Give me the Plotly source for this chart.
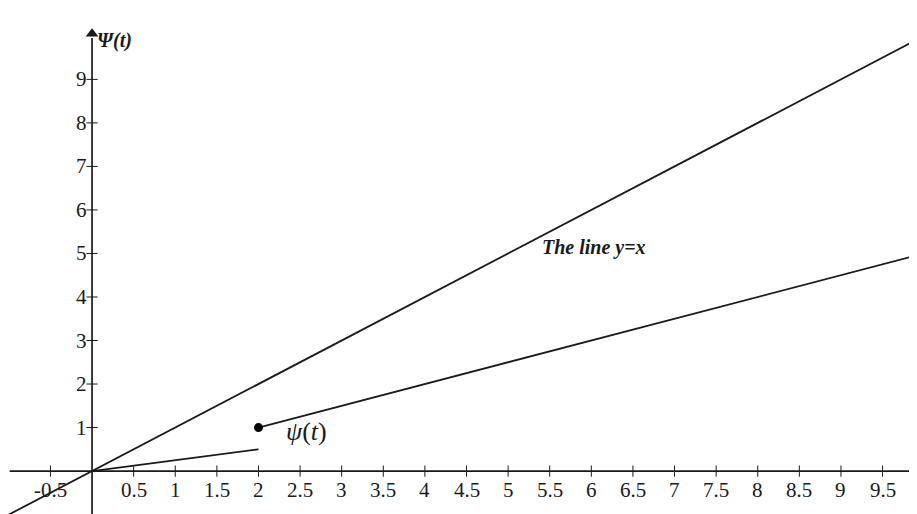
import plotly.graph_objects as go

# Data
x_ticks = [-0.5, 0.5, 1, 1.5, 2, 2.5, 3, 3.5, 4, 4.5, 5, 5.5, 6, 6.5, 7, 7.5, 8, 8.5, 9, 9.5]
x_tick_labels = ["-0.5", "0.5", "1", "1.5", "2", "2.5", "3", "3.5", "4", "4.5", "5", "5.5",
                 "6", "6.5", "7", "7.5", "8", "8.5", "9", "9.5"]
y_ticks = [1, 2, 3, 4, 5, 6, 7, 8, 9]
y_tick_labels = ["1", "2", "3", "4", "5", "6", "7", "8", "9"]

line_yx_x = [-1.3, 10.2]
line_yx_y = [-1.3, 10.2]
psi_low_x = [0, 2]
psi_low_y = [0, 0.5]
psi_high_x = [2, 10.2]
psi_high_y = [1, 5.1]
psi_point = (2, 1)

XR = [-1.01, 10.01]
YR = [-1.17, 10.64]
INK = "#1a1a1a"
FONT = "Liberation Serif"

fig = go.Figure()

# axes
fig.add_trace(go.Scatter(x=[-0.99, 10.1], y=[0, 0], mode="lines",
                         line=dict(color=INK, width=1.7), hoverinfo="skip"))
fig.add_trace(go.Scatter(x=[0, 0], y=[-1.2, 9.95], mode="lines",
                         line=dict(color=INK, width=1.7), hoverinfo="skip"))
fig.add_trace(go.Scatter(x=[0], y=[10.05], mode="markers",
                         marker=dict(symbol="triangle-up", size=11, color=INK), hoverinfo="skip"))
fig.add_trace(go.Scatter(x=[9.97], y=[0], mode="markers",
                         marker=dict(symbol="triangle-right", size=11, color=INK), hoverinfo="skip"))

# tick marks
fig.add_trace(go.Scatter(x=x_ticks, y=[0] * len(x_ticks), mode="markers",
                         marker=dict(symbol="line-ns", size=8, line=dict(color=INK, width=1)),
                         hoverinfo="skip"))
fig.add_trace(go.Scatter(x=[0] * len(y_ticks), y=y_ticks, mode="markers",
                         marker=dict(symbol="line-ew", size=8, line=dict(color=INK, width=1)),
                         hoverinfo="skip"))

# curves
fig.add_trace(go.Scatter(x=line_yx_x, y=line_yx_y, mode="lines",
                         line=dict(color=INK, width=1.8), hoverinfo="skip"))
fig.add_trace(go.Scatter(x=psi_low_x, y=psi_low_y, mode="lines",
                         line=dict(color=INK, width=1.8), hoverinfo="skip"))
fig.add_trace(go.Scatter(x=psi_high_x, y=psi_high_y, mode="lines",
                         line=dict(color=INK, width=1.8), hoverinfo="skip"))
fig.add_trace(go.Scatter(x=[psi_point[0]], y=[psi_point[1]], mode="markers",
                         marker=dict(size=9, color="black"), hoverinfo="skip"))

annotations = []
for xv, lab in zip(x_ticks, x_tick_labels):
    annotations.append(dict(x=xv, y=0, xref="x", yref="y", text=lab, showarrow=False,
                            yanchor="top", xanchor="center", yshift=-5,
                            font=dict(family=FONT, size=21, color=INK)))
for yv, lab in zip(y_ticks, y_tick_labels):
    annotations.append(dict(x=0, y=yv, xref="x", yref="y", text=lab, showarrow=False,
                            xanchor="right", yanchor="middle", xshift=-3,
                            font=dict(family=FONT, size=21, color=INK)))
annotations.append(dict(x=0, y=9.9, xref="x", yref="y", text="<b><i>Ψ(t)</i></b>",
                        showarrow=False, xanchor="left", yanchor="middle", xshift=3,
                        font=dict(family=FONT, size=20, color=INK)))
annotations.append(dict(x=6.03, y=5.13, xref="x", yref="y", text="<b><i>The line y=x</i></b>",
                        showarrow=False, xanchor="center", yanchor="middle",
                        font=dict(family=FONT, size=20, color=INK)))
annotations.append(dict(x=2.58, y=0.92, xref="x", yref="y", text="<i>ψ</i>(<i>t</i>)",
                        showarrow=False, xanchor="center", yanchor="middle",
                        font=dict(family=FONT, size=26, color=INK)))

fig.update_layout(
    width=917, height=514,
    margin=dict(l=0, r=0, t=0, b=0),
    paper_bgcolor="white", plot_bgcolor="white",
    showlegend=False,
    xaxis=dict(range=XR, visible=False, fixedrange=True),
    yaxis=dict(range=YR, visible=False, fixedrange=True),
    annotations=annotations,
)

fig.write_html("out.html")
